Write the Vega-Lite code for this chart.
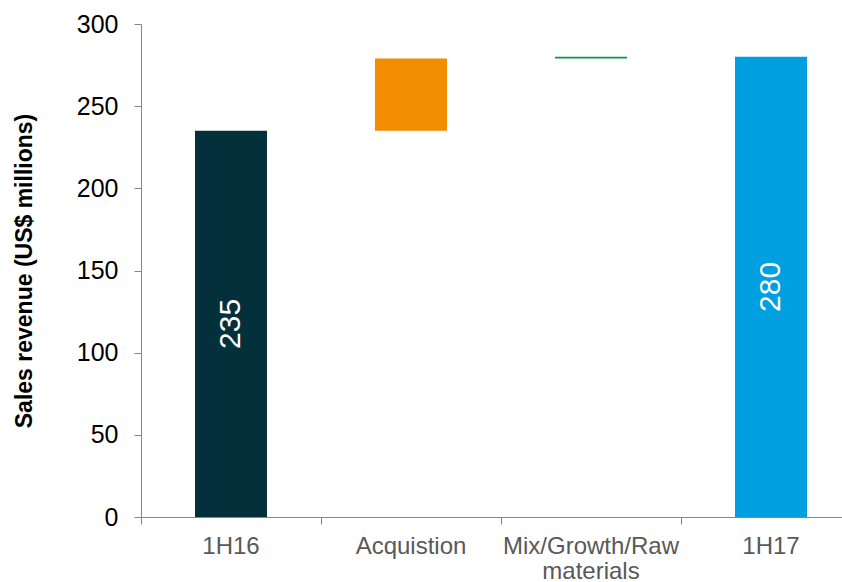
{
  "$schema": "https://vega.github.io/schema/vega-lite/v6.json",
  "width": 701,
  "height": 493,
  "autosize": {"type": "none"},
  "padding": {"left": 141, "top": 24, "right": 0, "bottom": 65},
  "background": "white",
  "config": {"view": {"stroke": null}, "font": "Liberation Sans"},
  "data": {
    "values": [
      {"category": "1H16", "start": 0, "end": 235, "label": "235"},
      {"category": "Acquistion", "start": 235, "end": 279, "label": ""},
      {"category": "Mix/Growth/Raw materials", "start": 279, "end": 280, "label": ""},
      {"category": "1H17", "start": 0, "end": 280, "label": "280"}
    ]
  },
  "encoding": {
    "x": {
      "field": "category",
      "type": "nominal",
      "sort": null,
      "scale": {"range": [0, 720], "paddingInner": 0, "paddingOuter": 0},
      "axis": {
        "title": null,
        "labelAngle": 0,
        "bandPosition": 0,
        "labelExpr": "split(datum.label, ' ')",
        "labelFontSize": 24,
        "labelColor": "#595959",
        "labelFont": "Liberation Sans",
        "labelLineHeight": 25,
        "labelPadding": 10,
        "domainColor": "#868686",
        "tickColor": "#868686",
        "tickSize": 7,
        "grid": false
      }
    }
  },
  "layer": [
    {
      "mark": {"type": "bar", "width": {"band": 0.4}},
      "encoding": {
        "y": {
          "field": "start",
          "type": "quantitative",
          "scale": {"domain": [0, 300], "nice": false},
          "axis": {
            "values": [0, 50, 100, 150, 200, 250, 300],
            "title": "Sales revenue (US$ millions)",
            "titleFontSize": 23,
            "titleFontWeight": "bold",
            "titleColor": "black",
            "titleFont": "Liberation Sans",
            "titlePadding": 40,
            "labelFontSize": 25,
            "labelColor": "black",
            "labelFont": "Liberation Sans",
            "labelPadding": 16,
            "domainColor": "#868686",
            "tickColor": "#868686",
            "tickSize": 7,
            "grid": false
          }
        },
        "y2": {"field": "end"},
        "color": {
          "field": "category",
          "type": "nominal",
          "scale": {
            "domain": ["1H16", "Acquistion", "Mix/Growth/Raw materials", "1H17"],
            "range": ["#04303b", "#f28c00", "#009a4e", "#00a0e0"]
          },
          "legend": null
        }
      }
    },
    {
      "transform": [
        {"filter": "datum.label != ''"},
        {"fold": ["start", "end"], "as": ["k", "v"]}
      ],
      "mark": {"type": "text", "angle": 270, "fontSize": 30, "color": "white", "font": "Liberation Sans", "baseline": "middle", "align": "center"},
      "encoding": {
        "y": {"aggregate": "mean", "field": "v", "type": "quantitative"},
        "text": {"field": "label"}
      }
    }
  ]
}
